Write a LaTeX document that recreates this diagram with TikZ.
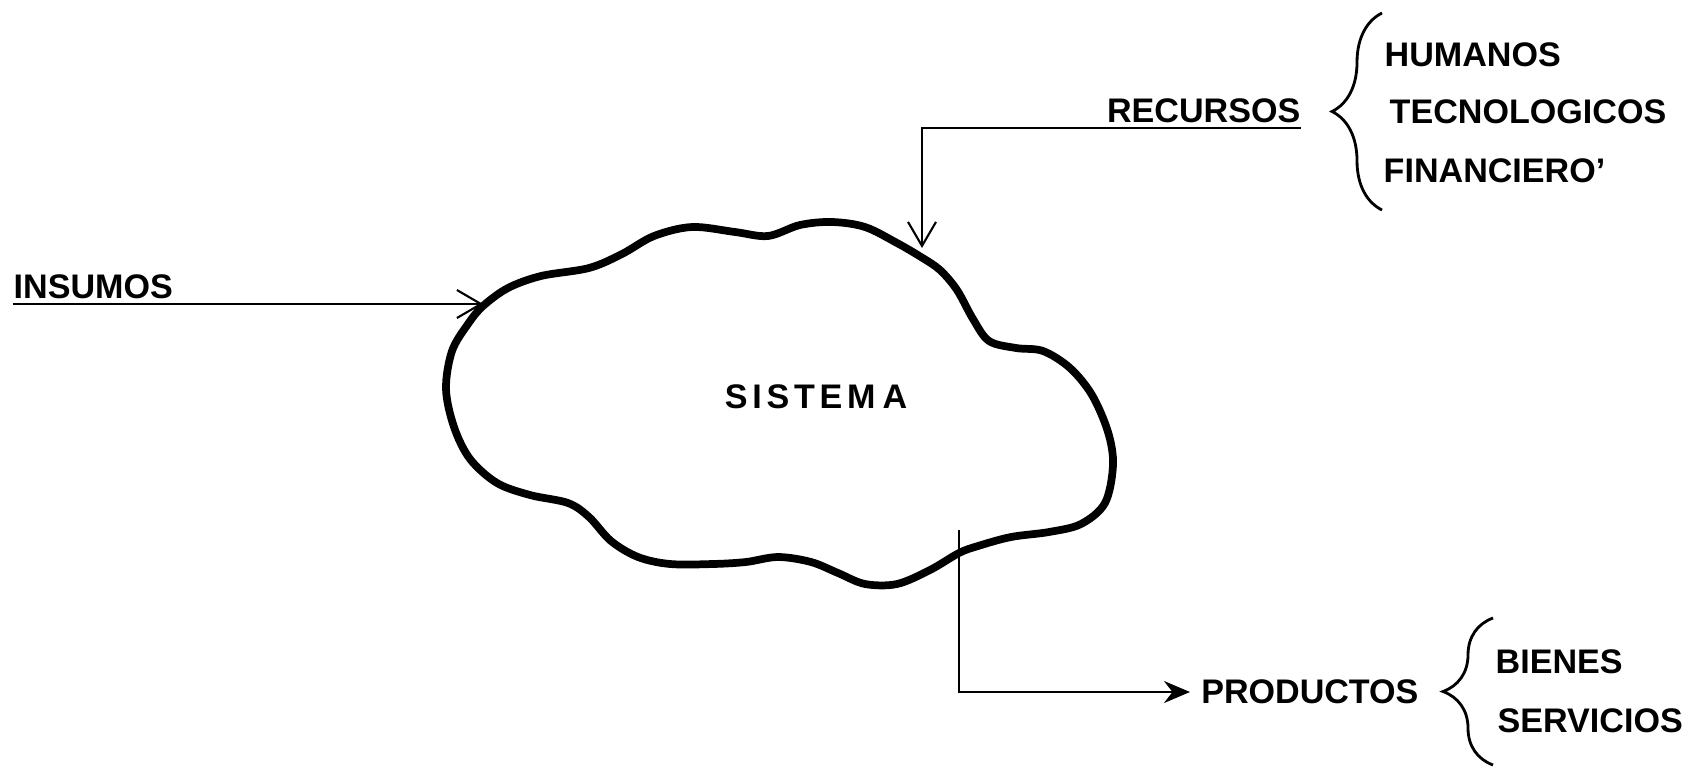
\documentclass[tikz,border=0pt]{standalone}
\usepackage{fontspec}
\setmainfont{Liberation Sans}
\usetikzlibrary{arrows.meta, decorations.pathreplacing, positioning}

\begin{document}
\begin{tikzpicture}[
  lbl/.style={font=\fontsize{9.7}{12}\selectfont\bfseries, inner sep=0pt},
  flow/.style={line width=0.6pt, -{Straight Barb[length=2.4mm, width=2.8mm]}},
  flowout/.style={line width=0.6pt, -{Stealth[length=2.6mm, width=2.2mm]}},
  brc/.style={line width=0.8pt, decorate, decoration={brace, amplitude=0.5cm}},
  nube/.style={line width=2.2pt, line join=round},
]
\useasboundingbox (0,0) rectangle (16.95,-7.68);

\draw[nube] plot[smooth cycle, tension=0.55] coordinates {
  (4.83,-3.06) (5.08,-2.88) (5.41,-2.76) (5.89,-2.68) (6.22,-2.54)
  (6.54,-2.36) (6.92,-2.27) (7.35,-2.32) (7.68,-2.36) (8.00,-2.25)
  (8.32,-2.22) (8.65,-2.27) (8.97,-2.43) (9.21,-2.57) (9.40,-2.70)
  (9.57,-2.90) (9.73,-3.19) (9.89,-3.41) (10.16,-3.48) (10.43,-3.51)
  (10.70,-3.68) (10.92,-3.95) (11.08,-4.32) (11.13,-4.65) (11.05,-5.03)
  (10.81,-5.24) (10.49,-5.32) (10.11,-5.37) (9.78,-5.46) (9.59,-5.53)
  (9.30,-5.70) (8.97,-5.84) (8.65,-5.84) (8.38,-5.73) (8.11,-5.62)
  (7.78,-5.57) (7.46,-5.62) (7.13,-5.64) (6.70,-5.64) (6.38,-5.57)
  (6.11,-5.41) (5.89,-5.17) (5.68,-5.03) (5.30,-4.95) (4.97,-4.83)
  (4.70,-4.59) (4.54,-4.27) (4.46,-3.89) (4.52,-3.51) (4.68,-3.24)
};
\node[lbl] (sistema) at (8.16,-3.97) {\addfontfeatures{LetterSpace=14}SISTEM\kern2pt A};

\node[lbl, anchor=south west, inner ysep=1.2pt] (insumos) at (0.13,-3.04) {INSUMOS};
\coordinate (entrada) at (4.83,-3.04);
\draw[flow] (insumos.south west) -- (entrada);

\node[lbl, anchor=south east, inner ysep=1.2pt] (recursos) at (13.01,-1.28) {RECURSOS};
\coordinate (recurso-in) at (9.22,-2.48);
\draw[flow] (recursos.south east) -| (recurso-in);

\coordinate (rb-bot) at (13.82,-2.10);
\coordinate (rb-top) at (13.82,-0.13);
\draw[brc] (rb-bot) -- (rb-top);
\node[lbl, anchor=base west] (humanos) at (13.84,-0.66) {HUMANOS};
\node[lbl, anchor=base west] (tecno) at (13.89,-1.23) {TECNOLOGICOS};
\node[lbl, anchor=base west] (financ) at (13.83,-1.82) {FINANCIERO'};

\coordinate (salida) at (9.59,-5.30);
\node[lbl, anchor=west, inner xsep=3pt] (productos) at (11.90,-6.92) {PRODUCTOS};
\draw[flowout] (salida) |- (productos.west);

\coordinate (pb-bot) at (14.93,-7.65);
\coordinate (pb-top) at (14.93,-6.18);
\draw[brc] (pb-bot) -- (pb-top);
\node[lbl, anchor=base west] (bienes) at (14.95,-6.73) {BIENES};
\node[lbl, anchor=base west] (servicios) at (14.97,-7.32) {SERVICIOS};
\end{tikzpicture}
\end{document}
